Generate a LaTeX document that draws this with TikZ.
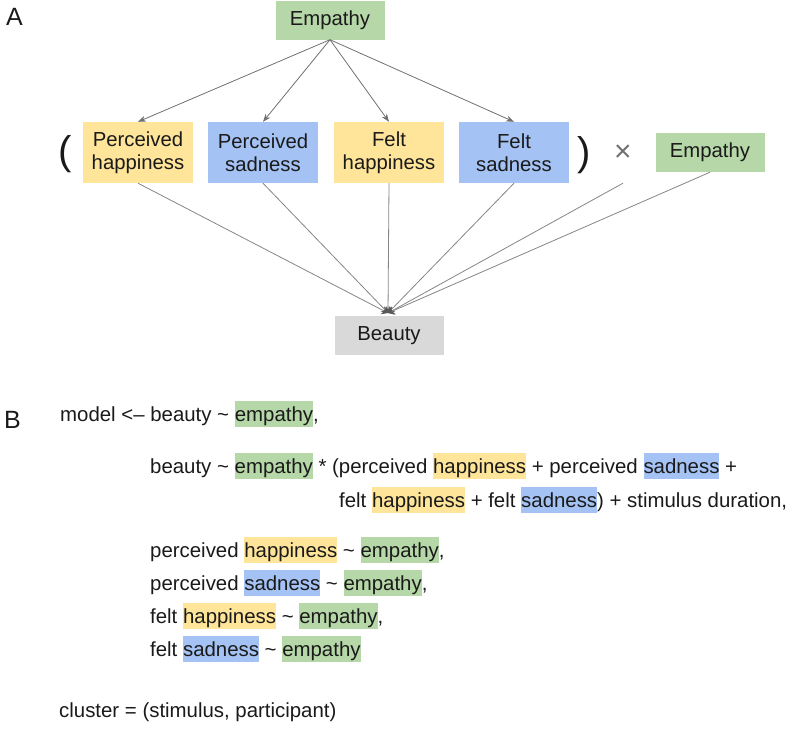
\documentclass[tikz,border=0pt]{standalone}
\usepackage{fontspec}
\setmainfont{Liberation Sans}
\usepackage{xcolor}
\usetikzlibrary{arrows.meta,positioning}
\definecolor{empgreen}{HTML}{B6D7A8}
\definecolor{happyel}{HTML}{FFE599}
\definecolor{sadblue}{HTML}{A4C2F4}
\definecolor{beautygray}{HTML}{D9D9D9}
\definecolor{wire}{HTML}{707070}
\definecolor{ink}{HTML}{1A1A1A}
\newcommand{\hl}[2]{{\setlength{\fboxsep}{0pt}\colorbox{#1}{\rule[-6pt]{0pt}{26pt}#2}}}
\newcommand{\tld}{\textasciitilde}
\tikzset{
  var/.style={text=ink, align=center, inner sep=0pt, minimum width=110pt, minimum height=61pt, font=\fontsize{20.3}{23}\selectfont},
  tag/.style={var, minimum width=109pt, minimum height=39pt},
  arr/.style={draw=wire, line width=0.8pt, -{Stealth[length=8pt,width=6pt]}},
  link/.style={draw=wire!85, line width=0.8pt, -{Stealth[length=6pt,width=9pt,color=black!65]}},
  paren/.style={text=ink, inner sep=0pt, font=\fontsize{40}{40}\selectfont},
  code/.style={anchor=base west, inner sep=0pt, text=ink, font=\fontsize{20.4}{24}\selectfont},
  panel/.style={anchor=base west, inner sep=0pt, text=ink, font=\fontsize{25}{25}\selectfont},
}

\begin{document}
\begin{tikzpicture}[x=1pt,y=-1pt]
  \useasboundingbox (0,0) rectangle (789,732);
  % panel A
  \node[panel] (labA) at (6,25) {A};
  \node[tag, fill=empgreen] (emp) at (330,20) {Empathy};
  \foreach \nm/\x/\col/\txt in {pha/138/happyel/{Perceived\\happiness},
      phs/263/sadblue/{Perceived\\sadness},
      fha/389/happyel/{Felt\\happiness},
      fsa/514/sadblue/{Felt\\sadness}}
    \node[var, fill=\col] (\nm) at (\x,152.5) {\txt};
  \node[paren] (lpar) at (65,154) {(};
  \node[paren] (rpar) at (584,155) {)};
  \node[text=wire, inner sep=0pt, minimum height=60pt, font=\fontsize{30}{30}\selectfont] (times) at (623,153) {×};
  \node[tag, fill=empgreen] (emp2) at (710,152.5) {Empathy};
  \node[tag, fill=beautygray] (beauty) at (389,335.5) {Beauty};
  \coordinate (hub) at (388,313);
  \foreach \X in {pha,phs,fha,fsa}
    \draw[arr] (emp.south) -- (\X.north);
  \foreach \X in {pha,phs,fha,fsa,times,emp2}
    \draw[link] (\X.south) -- (hub);
  % panel B
  \node[panel] (labB) at (4,428) {B};
  \node[code] (l1) at (60,421) {model <-- beauty \tld{} \hl{empgreen}{empathy},};
  \node[code] (l2) at (150,473) {beauty \tld{} \hl{empgreen}{empathy} * (perceived \hl{happyel}{happiness} + perceived \hl{sadblue}{sadness} +};
  \node[code] (l3) at (339,507) {felt \hl{happyel}{happiness} + felt \hl{sadblue}{sadness}) + stimulus duration,};
  \node[code] (l4) at (150,557) {perceived \hl{happyel}{happiness} \tld{} \hl{empgreen}{empathy},};
  \node[code] (l5) at (150,590) {perceived \hl{sadblue}{sadness} \tld{} \hl{empgreen}{empathy},};
  \node[code] (l6) at (150,623) {felt \hl{happyel}{happiness} \tld{} \hl{empgreen}{empathy},};
  \node[code] (l7) at (150,656) {felt \hl{sadblue}{sadness} \tld{} \hl{empgreen}{empathy}};
  \node[code] (l8) at (59,717) {cluster = (stimulus, participant)};
\end{tikzpicture}
\end{document}
